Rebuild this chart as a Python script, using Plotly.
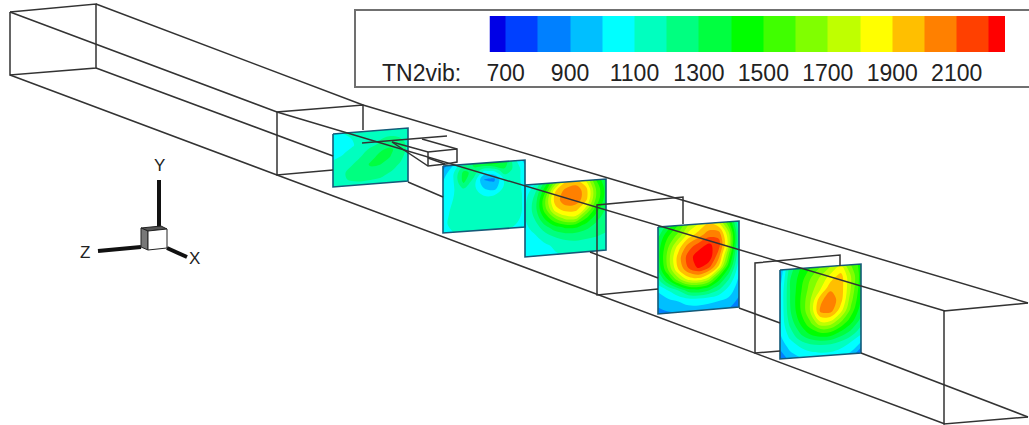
import plotly.graph_objects as go
import numpy as np

# ---------- colour levels / legend ----------
level_edges = [650, 700, 800, 900, 1000, 1100, 1200, 1300, 1400, 1500, 1600, 1700,
               1800, 1900, 2000, 2100, 2200, 2250]
level_colors = ["#0000e6", "#0040ff", "#0080ff", "#00bfff", "#00ffff", "#00ffbf", "#00ff80",
                "#00ff40", "#00ff00", "#40ff00", "#80ff00", "#bfff00", "#ffff00", "#ffbf00",
                "#ff8000", "#ff4000", "#ff0000"]
tick_values = [700, 900, 1100, 1300, 1500, 1700, 1900, 2100]
legend_title = "TN2vib:"

# ---------- slices: corners (top-left, top-right, bottom-right, bottom-left) ----------
slice_corners = {
    "s1": [(333, 134), (408, 128), (408, 181), (333, 187)],
    "s2": [(443, 166), (525, 160), (525, 227), (443, 233)],
    "s3": [(525, 185), (606, 179), (606, 250), (525, 257)],
    "s4": [(658, 227), (739, 221), (739, 307), (658, 314)],
    "s5": [(780, 270), (861, 264), (861, 353), (780, 359)],
}

# ---------- TN2vib values (rows top to bottom) ----------
s1 = [[1080, 1100, 1130, 1160, 1180, 1180, 1180, 1170, 1160],
      [1060, 1070, 1100, 1140, 1170, 1190, 1200, 1190, 1160],
      [1060, 1060, 1090, 1130, 1170, 1210, 1240, 1230, 1180],
      [1070, 1090, 1130, 1170, 1230, 1290, 1320, 1270, 1180],
      [1100, 1120, 1160, 1210, 1280, 1320, 1310, 1240, 1170],
      [1130, 1160, 1200, 1260, 1310, 1310, 1270, 1210, 1160],
      [1160, 1190, 1220, 1270, 1280, 1260, 1220, 1180, 1150],
      [1170, 1190, 1210, 1220, 1220, 1210, 1180, 1160, 1140],
      [1160, 1170, 1180, 1180, 1170, 1160, 1150, 1140, 1130]]
s2 = [[850, 1000, 1180, 1320, 1430, 1480, 1380, 1130, 950],
      [950, 1090, 1330, 1270, 1080, 1120, 1280, 1170, 1040],
      [1000, 1090, 1330, 1160, 900, 880, 1130, 1160, 1050],
      [1000, 1090, 1180, 1130, 1000, 950, 1120, 1160, 1060],
      [1020, 1100, 1140, 1140, 1110, 1110, 1150, 1170, 1070],
      [1040, 1120, 1160, 1170, 1180, 1180, 1180, 1170, 1070],
      [1050, 1140, 1170, 1180, 1190, 1190, 1180, 1170, 1070],
      [1060, 1150, 1170, 1180, 1180, 1180, 1170, 1150, 1040],
      [1030, 1100, 1140, 1150, 1150, 1150, 1130, 1080, 980]]
s3 = [[1000, 1100, 1350, 1650, 1900, 1950, 1800, 1500, 1300],
      [1050, 1200, 1500, 1900, 2040, 2060, 1950, 1600, 1350],
      [1080, 1250, 1600, 1950, 2060, 2060, 1950, 1600, 1350],
      [1090, 1250, 1550, 1850, 1960, 1960, 1800, 1500, 1300],
      [1090, 1200, 1400, 1600, 1750, 1780, 1550, 1380, 1250],
      [1070, 1130, 1250, 1360, 1430, 1440, 1370, 1280, 1220],
      [1040, 1080, 1140, 1210, 1250, 1260, 1240, 1220, 1200],
      [1020, 1040, 1080, 1120, 1150, 1170, 1170, 1170, 1160],
      [1000, 1020, 1050, 1090, 1110, 1130, 1140, 1140, 1130]]
s4 = [[1200, 1350, 1500, 1700, 1800, 1900, 1800, 1500, 1100],
      [1300, 1500, 1650, 1850, 1950, 2050, 2050, 1700, 1150],
      [1350, 1600, 1850, 2050, 2150, 2220, 2150, 1750, 1150],
      [1350, 1650, 1950, 2150, 2260, 2280, 2050, 1600, 1100],
      [1300, 1600, 1900, 2100, 2220, 2150, 1900, 1450, 1050],
      [1150, 1380, 1650, 1850, 1900, 1800, 1500, 1250, 1000],
      [1000, 1080, 1200, 1370, 1420, 1370, 1250, 1100, 950],
      [920, 960, 1000, 1040, 1060, 1060, 1040, 1000, 900],
      [870, 890, 900, 950, 950, 930, 900, 900, 850]]
s5 = [[900, 1250, 1400, 1500, 1600, 1700, 1800, 1600, 1450],
      [950, 1300, 1450, 1600, 1720, 1850, 1950, 1700, 1450],
      [1000, 1300, 1480, 1650, 1800, 1980, 1960, 1700, 1430],
      [1000, 1300, 1500, 1700, 1980, 2060, 1950, 1650, 1400],
      [1000, 1280, 1480, 1700, 2020, 2040, 1850, 1580, 1350],
      [1000, 1220, 1400, 1580, 1780, 1780, 1620, 1450, 1270],
      [980, 1130, 1280, 1400, 1470, 1470, 1380, 1280, 1150],
      [920, 1030, 1110, 1170, 1200, 1200, 1160, 1090, 1000],
      [800, 950, 1000, 1040, 1060, 1060, 1030, 980, 800]]
slice_values = {"s1": s1, "s2": s2, "s3": s3, "s4": s4, "s5": s5}

# ---------- wireframe polylines in picture coordinates ----------
wire_lines = [
    # duct, start frame
    [(10, 12), (96, 4), (96, 68), (10, 75), (10, 12)],
    # long edges
    [(10, 12), (277, 112), (945, 311)],
    [(96, 4), (363, 105), (1028, 303)],
    [(96, 68), (333, 156)],
    [(408, 182), (443, 197)],
    [(590, 252), (658, 278)],
    [(739, 308), (780, 323)],
    [(861, 353), (1028, 417)],
    [(10, 75), (277, 175), (945, 424)],
    # cross-section frames
    [(333, 170), (277, 175), (277, 112), (363, 105), (363, 130)],
    [(658, 289), (597, 295), (597, 205), (683, 197), (683, 224)],
    [(780, 351), (755, 353), (755, 263), (840, 255), (840, 266)],
    [(1028, 417), (944, 424), (944, 311), (1028, 303)],
    # wedge
    [(362, 143), (447, 136)],
    [(392, 142), (428, 152), (457, 149), (457, 162), (446, 164)],
    [(422, 139), (457, 149)],
    [(392, 142), (428, 166), (446, 164)],
    [(428, 152), (428, 166)],
    [(428, 158), (445, 164)],
]
triad_lines = [
    ([(159, 180), (159, 227)], 4),
    ([(98, 251), (141, 247)], 4),
    ([(167, 248), (187, 257)], 4),
]
triad_faces = [
    ([(141, 228), (161, 226), (167, 229), (148, 231)], "#555555"),
    ([(141, 228), (148, 231), (148, 250), (141, 247)], "#777777"),
    ([(148, 231), (167, 229), (167, 248), (148, 250)], "#ffffff"),
]
triad_labels = [("Y", 159, 165), ("Z", 85, 252), ("X", 194, 258)]

# ---------- build ----------
W, H = 1029, 425
fig = go.Figure()
n = len(level_colors)
colorscale = [[i / (n - 1), c] for i, c in enumerate(level_colors)]

for name, corners in slice_corners.items():
    z = np.array(slice_values[name], dtype=float)
    rows, cols = z.shape
    a = np.arange(cols)
    b = np.arange(rows)
    tl, tr, br, bl = [np.array(p, dtype=float) for p in corners]
    u, v = np.meshgrid(a / (cols - 1), b / (rows - 1))
    gx = (1 - v) * ((1 - u) * tl[0] + u * tr[0]) + v * ((1 - u) * bl[0] + u * br[0])
    gy = (1 - v) * ((1 - u) * tl[1] + u * tr[1]) + v * ((1 - u) * bl[1] + u * br[1])
    hidden = dict(showgrid=False, showline=False, showticklabels="none", startline=False,
                  endline=False, minorgridcount=0, smoothing=0)
    fig.add_trace(go.Carpet(carpet=name, a=a, b=b, x=gx, y=gy, aaxis=hidden, baxis=hidden))
    fig.add_trace(go.Contourcarpet(
        carpet=name, a=a, b=b, z=z, showscale=False, autocontour=False,
        contours=dict(start=700, end=2200, size=100, coloring="fill", showlines=False),
        line=dict(width=0, smoothing=1.0),
        zmin=level_edges[0], zmax=level_edges[-1], colorscale=colorscale))
    ring = corners + [corners[0]]
    fig.add_trace(go.Scatter(x=[p[0] for p in ring], y=[p[1] for p in ring], mode="lines",
                             line=dict(color="#155a78", width=1.6), hoverinfo="skip"))

for line in wire_lines:
    fig.add_trace(go.Scatter(x=[p[0] for p in line], y=[p[1] for p in line], mode="lines",
                             line=dict(color="#333333", width=1.5), hoverinfo="skip"))
for line, w in triad_lines:
    fig.add_trace(go.Scatter(x=[p[0] for p in line], y=[p[1] for p in line], mode="lines",
                             line=dict(color="#111111", width=w), hoverinfo="skip"))
for face, col in triad_faces:
    ring = face + [face[0]]
    fig.add_trace(go.Scatter(x=[p[0] for p in ring], y=[p[1] for p in ring], mode="lines",
                             fill="toself", fillcolor=col,
                             line=dict(color="#222222", width=1), hoverinfo="skip"))

# legend colour strip on its own axes
fig.add_trace(go.Heatmap(x=level_edges, y=[0, 1], z=[list(range(n))], xaxis="x2", yaxis="y2",
                         zmin=-0.5, zmax=n - 0.5, showscale=False, hoverinfo="skip",
                         colorscale=[[k / n if j == 0 else (k + 1) / n, c]
                                     for k, c in enumerate(level_colors) for j in (0, 1)]))

fig.update_layout(
    width=W, height=H, margin=dict(l=0, r=0, t=0, b=0, autoexpand=False), showlegend=False,
    paper_bgcolor="white", plot_bgcolor="rgba(0,0,0,0)",
    font=dict(family="Liberation Sans, Arial, sans-serif", color="#222222"),
    xaxis=dict(range=[0, W], visible=False, domain=[0, 1], fixedrange=True, automargin=False),
    yaxis=dict(range=[H, 0], visible=False, domain=[0, 1], fixedrange=True, automargin=False),
    xaxis2=dict(domain=[489.5 / W, 1005 / W], range=[level_edges[0], level_edges[-1]],
                anchor="y2", tickmode="array", tickvals=tick_values, ticks="", showgrid=False,
                zeroline=False, showline=False, tickfont=dict(size=23), ticklabelstandoff=5,
                fixedrange=True, automargin=False),
    yaxis2=dict(domain=[1 - 52 / H, 1 - 16 / H], range=[0, 1], anchor="x2", visible=False,
                fixedrange=True),
    shapes=[dict(type="rect", xref="x", yref="y", x0=355, x1=1040, y0=10, y1=87,
                 line=dict(color="#707070", width=2), layer="below")],
    annotations=[dict(text=legend_title, x=421, y=73, xref="x", yref="y", showarrow=False,
                      font=dict(size=23), xanchor="center", yanchor="middle")]
    + [dict(text=t, x=x, y=y, xref="x", yref="y", showarrow=False, font=dict(size=17),
            xanchor="center", yanchor="middle") for t, x, y in triad_labels],
)

fig.write_html("out.html", config={"displayModeBar": False},
               post_script="document.body.style.margin='0';")
